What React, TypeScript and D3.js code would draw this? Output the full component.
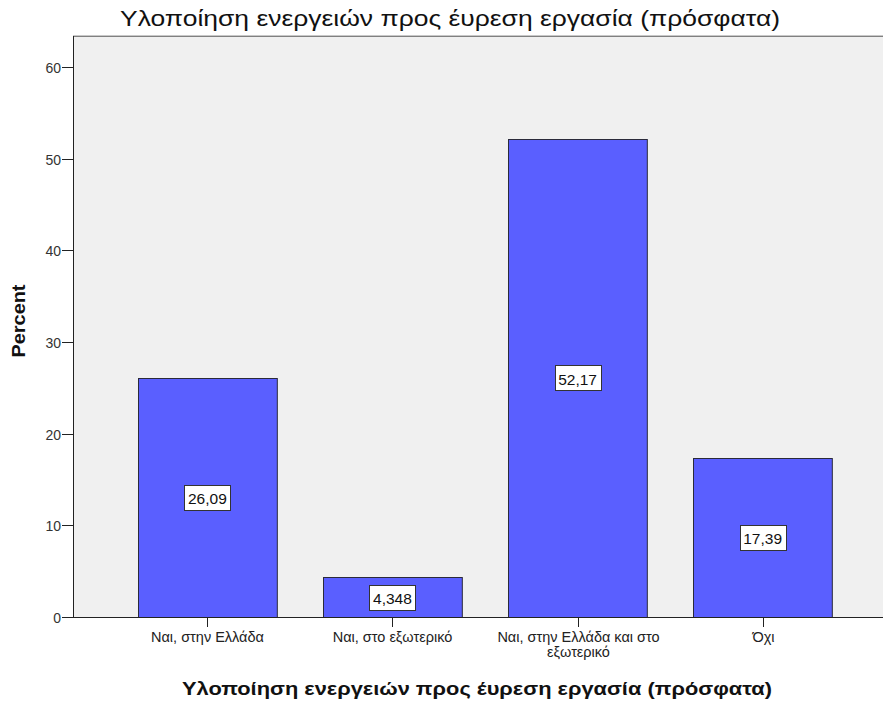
import React, { useEffect, useRef } from "react";
import * as d3 from "d3";

const TITLE = "Υλοποίηση ενεργειών προς έυρεση εργασία (πρόσφατα)";
const Y_TITLE = "Percent";
const categories: string[][] = [
  ["Ναι, στην Ελλάδα"],
  ["Ναι, στο εξωτερικό"],
  ["Ναι, στην Ελλάδα και στο", "εξωτερικό"],
  ["Όχι"],
];
const values: number[] = [26.09, 4.348, 52.17, 17.39];
const valueLabels: string[] = ["26,09", "4,348", "52,17", "17,39"];
const yTicks: number[] = [0, 10, 20, 30, 40, 50, 60];

const W = 883;
const H = 701;
const FONT = "'Liberation Sans', Arial, sans-serif";

export default function App() {
  const ref = useRef<SVGSVGElement>(null);
  useEffect(() => {
    const svg = d3.select(ref.current);
    svg.selectAll("*").remove();
    const left = 73, right = 897, top = 36, bottom = 617;
    const x = d3
      .scaleBand<number>()
      .domain(d3.range(values.length))
      .range([left, right])
      .paddingInner(0.25)
      .paddingOuter(0.351);
    const y = d3.scaleLinear().domain([0, 63.4]).range([bottom, top]);

    // plot background
    svg.append("rect").attr("x", left).attr("y", top).attr("width", right - left).attr("height", bottom - top).attr("fill", "#F0F0F0");
    svg.append("line").attr("x1", left).attr("x2", right).attr("y1", top - 0.5).attr("y2", top - 0.5).attr("stroke", "#C8C8C8").attr("stroke-width", 1);
    svg.append("line").attr("x1", left).attr("x2", right).attr("y1", top + 0.5).attr("y2", top + 0.5).attr("stroke", "#808080").attr("stroke-width", 1);

    // bars
    svg
      .selectAll("rect.bar")
      .data(values)
      .enter()
      .append("rect")
      .attr("class", "bar")
      .attr("x", (_, i) => Math.round(x(i)!) + 0.5)
      .attr("y", (d) => Math.round(y(d)) + 0.5)
      .attr("width", x.bandwidth())
      .attr("height", (d) => bottom - Math.round(y(d)))
      .attr("fill", "#5A5FFF")
      .attr("stroke", "#2A2A3A")
      .attr("stroke-width", 1);

    // y axis
    const ya = svg.append("g").attr("transform", `translate(${left},0)`);
    ya.append("line").attr("x1", 0.5).attr("x2", 0.5).attr("y1", top).attr("y2", bottom).attr("stroke", "#222");
    yTicks.forEach((t) => {
      const yy = Math.round(y(t)) + 0.5;
      ya.append("line").attr("x1", -11).attr("x2", 0).attr("y1", yy).attr("y2", yy).attr("stroke", "#222");
      ya.append("text")
        .attr("x", -12)
        .attr("y", yy)
        .attr("dy", "0.36em")
        .attr("text-anchor", "end")
        .attr("font-family", FONT)
        .attr("font-size", 14)
        .attr("fill", "#333")
        .text(String(t));
    });

    // x axis
    svg.append("line").attr("x1", left).attr("x2", right).attr("y1", bottom + 0.5).attr("y2", bottom + 0.5).attr("stroke", "#222");
    categories.forEach((lines, i) => {
      const cx = Math.round(x(i)! + x.bandwidth() / 2) + 0.5;
      svg.append("line").attr("x1", cx).attr("x2", cx).attr("y1", bottom).attr("y2", bottom + 10).attr("stroke", "#222");
      const t = svg
        .append("text")
        .attr("x", cx)
        .attr("y", bottom + 25)
        .attr("text-anchor", "middle")
        .attr("font-family", FONT)
        .attr("font-size", 14.5)
        .attr("fill", "#222");
      lines.forEach((l, j) => {
        t.append("tspan").attr("x", cx).attr("dy", j === 0 ? 0 : 14.5).text(l);
      });
    });

    // value labels
    values.forEach((v, i) => {
      const cx = x(i)! + x.bandwidth() / 2;
      const cy = y(v / 2);
      const bw = 46, bh = 25;
      svg.append("rect")
        .attr("x", Math.round(cx - bw / 2) + 0.5)
        .attr("y", Math.round(cy - bh / 2) + 0.5)
        .attr("width", bw)
        .attr("height", bh)
        .attr("fill", "#fff")
        .attr("stroke", "#333");
      svg.append("text")
        .attr("x", cx)
        .attr("y", cy + 1)
        .attr("dy", "0.36em")
        .attr("text-anchor", "middle")
        .attr("font-family", FONT)
        .attr("font-size", 15.5)
        .attr("fill", "#111")
        .text(valueLabels[i]);
    });

    // titles
    svg.append("text").attr("x", 450).attr("y", 26).attr("text-anchor", "middle")
      .attr("font-family", FONT).attr("font-size", 22).attr("fill", "#111")
      .attr("textLength", 660).attr("lengthAdjust", "spacingAndGlyphs").text(TITLE);
    svg.append("text").attr("x", 477).attr("y", 695).attr("text-anchor", "middle")
      .attr("font-family", FONT).attr("font-size", 18.5).attr("font-weight", "bold").attr("fill", "#111")
      .attr("textLength", 590).attr("lengthAdjust", "spacingAndGlyphs").text(TITLE);
    svg.append("text").attr("transform", `translate(25,${321}) rotate(-90)`)
      .attr("text-anchor", "middle").attr("font-family", FONT).attr("font-size", 18).attr("font-weight", "bold")
      .attr("textLength", 73).attr("lengthAdjust", "spacingAndGlyphs")
      .attr("fill", "#111").text(Y_TITLE);
  }, []);
  return (
    <div style={{ position: "absolute", left: 0, top: 0 }}>
      <svg ref={ref} width={W} height={H} style={{ display: "block", background: "#fff" }} />
    </div>
  );
}
